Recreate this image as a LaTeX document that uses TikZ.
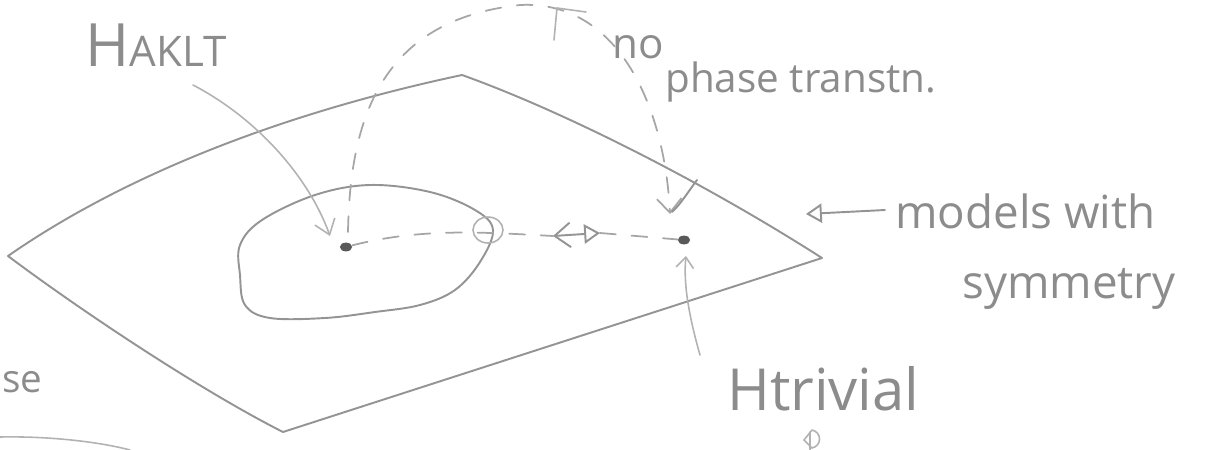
\documentclass[tikz,border=0pt]{standalone}
\usepackage{fontspec}
\setmainfont{Open Sans}
\usetikzlibrary{arrows.meta}
\tikzset{
  pencil/.style={draw=black!42, line width=1.1pt, line cap=round, line join=round},
  faint/.style={draw=black!30, line width=0.9pt, line cap=round},
  dashpen/.style={draw=black!35, line width=1pt, dash pattern=on 9pt off 9pt, line cap=round},
  lbl/.style={text=black!45, inner sep=0pt},
  dot/.style={ellipse, fill=black!65, minimum width=7pt, minimum height=5pt, inner sep=0pt}
}
\usetikzlibrary{shapes.geometric}
\begin{document}
\begin{tikzpicture}[x=0.02cm,y=-0.02cm]
\useasboundingbox (0,0) rectangle (1205,450);
% plane corners
\coordinate (pL) at (8,256);
\coordinate (pT) at (462,75);
\coordinate (pR) at (822,258);
\coordinate (pB) at (283,432);
\draw[pencil] (pL) .. controls (110,185) and (260,118) .. (pT)
  .. controls (560,110) and (700,180) .. (pR)
  -- (pB) .. controls (200,390) and (80,310) .. (pL);
% region blob
\draw[pencil] plot[smooth cycle, tension=0.6] coordinates {
 (370,185) (430,192) (475,210) (493,230) (480,262) (455,290) (420,305) (375,312)
 (325,318) (270,318) (245,305) (240,275) (240,245) (262,220) (315,195)};
% dots
\node[dot] (hA) at (346,247) {};
\node[dot] (hT) at (684,240) {};
% dashed path between
\coordinate (mL) at (553,236);
\coordinate (mR) at (600,233);
\draw[dashpen] (hA) .. controls (420,228) and (480,232) .. (mL);
\draw[dashpen] (mR) -- (hT);
\draw[pencil, {Straight Barb[length=9pt,width=14pt]}-{Triangle[open,length=9pt,width=11pt]}] (mL) -- (mR);
% small crossing mark at boundary
\draw[faint] (488,230) ellipse[x radius=15, y radius=13];
% labels
\node[lbl, anchor=base west, font=\fontsize{34}{34}\selectfont] (lA) at (85,66) {H\fontsize{24}{24}\selectfont AKLT};
\node[lbl, anchor=base west, font=\fontsize{24}{24}\selectfont] (no) at (612,58) {no};
\node[lbl, anchor=base west, font=\fontsize{23}{23}\selectfont] (ph) at (665,92) {phase transtn.};
\node[lbl, anchor=base west, font=\fontsize{26}{26}\selectfont] (mw) at (895,228) {models with};
\node[lbl, anchor=base west, font=\fontsize{26}{26}\selectfont] (sy) at (962,298) {symmetry};
\node[lbl, anchor=base west, font=\fontsize{33}{33}\selectfont] (ht) at (727,410) {Htrivial};
\node[lbl, anchor=base west, font=\fontsize{22}{22}\selectfont] (se) at (2,392) {se};
% label arrows
\coordinate (aA) at (193,85);
\draw[faint, -{Straight Barb[length=8pt,width=12pt]}] (aA) .. controls (260,120) and (310,180) .. (330,236);
\coordinate (aT) at (700,355);
\draw[faint, -{Straight Barb[length=6pt,width=10pt]}] (aT) .. controls (690,320) and (683,285) .. (686,256);
\coordinate (aM) at (885,210);
\draw[pencil, -{Triangle[open,length=9pt,width=11pt]}] (aM) -- (806,214);
% big dashed arc
\draw[dashpen, -{Straight Barb[length=8pt,width=14pt]}] (348,232) .. controls (350,120) and (380,20) .. (520,5)
  .. controls (620,0) and (665,110) .. (670,214);
\draw[faint] (554,40) -- (557,8) -- (586,12);
\draw[pencil] (697,180) .. controls (688,192) and (680,205) .. (672,212);
% bottom bits
\draw[faint] (0,437) .. controls (50,436) and (100,442) .. (130,450);
\draw[faint] (812,430) -- (804,440) -- (812,448) .. controls (822,446) and (822,432) .. (812,430);
\draw[faint] (810,432) -- (810,450);
\end{tikzpicture}
\end{document}
